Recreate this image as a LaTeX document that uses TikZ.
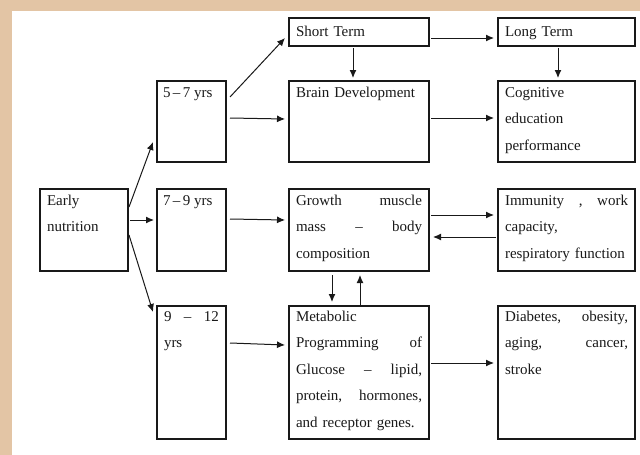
\documentclass[tikz,border=0pt]{standalone}
\usepackage{fontspec}
\setmainfont{Liberation Serif}
\usetikzlibrary{arrows.meta}
\definecolor{frame}{RGB}{227,197,165}
\definecolor{ink}{RGB}{25,25,25}
\tikzset{
  box/.style={draw=ink, line width=1.1pt, inner sep=0pt, outer sep=0pt, fill=white},
  txt/.style={anchor=north west, inner sep=0pt, outer sep=0pt, align=left, text=ink,
              font=\fontsize{15}{26.5}\selectfont},
  arr/.style={draw=ink, line width=1pt, -{Latex[length=8pt,width=7pt]}}
}
\newcommand{\fs}{\rule{0pt}{15pt}}
\begin{document}
\begin{tikzpicture}[x=1pt,y=-1pt]
\useasboundingbox (0,0) rectangle (640,455);
\fill[frame] (0,0) rectangle (640,455);
\fill[white] (12,11) rectangle (640,455);
% boxes
\node[box, minimum width=140pt, minimum height=28pt] (st) at (359,32) {};
\node[box, minimum width=137pt, minimum height=28pt] (lt) at (566.5,32) {};
\node[box, minimum width=69pt, minimum height=81pt] (a57) at (191.5,121.5) {};
\node[box, minimum width=140pt, minimum height=81pt] (bd) at (359,121.5) {};
\node[box, minimum width=137pt, minimum height=81pt] (cg) at (566.5,121.5) {};
\node[box, minimum width=88pt, minimum height=82pt] (en) at (84,230) {};
\node[box, minimum width=69pt, minimum height=82pt] (a79) at (191.5,230) {};
\node[box, minimum width=140pt, minimum height=82pt] (gr) at (359,230) {};
\node[box, minimum width=137pt, minimum height=82pt] (im) at (566.5,230) {};
\node[box, minimum width=69pt, minimum height=133pt] (a912) at (191.5,372.5) {};
\node[box, minimum width=140pt, minimum height=133pt] (mp) at (359,372.5) {};
\node[box, minimum width=137pt, minimum height=133pt] (db) at (566.5,372.5) {};
% texts
\node[txt, text width=126pt] (stT) at ([shift={(7pt,-3pt)}]st.north west) {\fs Short Term};
\node[txt, text width=123pt] (ltT) at ([shift={(7pt,-3pt)}]lt.north west) {\fs Long Term};
\node[txt] (a57T) at ([shift={(6pt,-1pt)}]a57.north west) {\fs 5\,–\,7 yrs};
\node[txt, text width=126pt] (bdT) at ([shift={(7pt,-1pt)}]bd.north west) {\fs Brain Development};
\node[txt, text width=123pt] (cgT) at ([shift={(7pt,-1pt)}]cg.north west) {\fs Cognitive\\education\\performance};
\node[txt, text width=74pt] (enT) at ([shift={(7pt,-1pt)}]en.north west) {\fs Early\\nutrition};
\node[txt] (a79T) at ([shift={(6pt,-1pt)}]a79.north west) {\fs 7\,–\,9 yrs};
\node[txt, text width=126pt] (grT) at ([shift={(7pt,-1pt)}]gr.north west) {\fs Growth\hfill muscle\\mass\hfill –\hfill body\\composition};
\node[txt, text width=123pt] (imT) at ([shift={(7pt,-1pt)}]im.north west) {\fs Immunity\hfill ,\hfill work\\capacity,\\respiratory function};
\node[txt, text width=55pt] (a912T) at ([shift={(7pt,0pt)}]a912.north west) {\fs 9\hfill –\hfill 12\\yrs};
\node[txt, text width=126pt] (mpT) at ([shift={(7pt,0pt)}]mp.north west) {\fs Metabolic\\Programming\hfill of\\Glucose\hfill –\hfill lipid,\\protein,\hfill hormones,\\and receptor genes.};
\node[txt, text width=123pt] (dbT) at ([shift={(7pt,0pt)}]db.north west) {\fs Diabetes,\hfill obesity,\\aging,\hfill cancer,\\stroke};
% arrows
\draw[arr] ([shift={(1pt,-18pt)}]en.north east) -- ([shift={(-4pt,20pt)}]a57.south west);
\draw[arr] ([shift={(2pt,10pt)}]en.east) -- ([shift={(-3pt,10pt)}]a79.west);
\draw[arr] ([shift={(1pt,-5pt)}]en.east) -- ([shift={(-4pt,-6pt)}]a912.north west);
\draw[arr] ([shift={(4pt,-16pt)}]a57.north east) -- ([shift={(-4pt,-6pt)}]st.west);
\draw[arr] ([shift={(4pt,3.5pt)}]a57.east) -- ([shift={(-4pt,2.5pt)}]bd.west);
\draw[arr] ([shift={(4pt,11pt)}]a79.east) -- ([shift={(-4pt,10pt)}]gr.west);
\draw[arr] ([shift={(4pt,29.5pt)}]a912.east) -- ([shift={(-4pt,27.5pt)}]mp.west);
\draw[arr] ([shift={(2pt,-6pt)}]st.east) -- ([shift={(-4pt,-6pt)}]lt.west);
\draw[arr] ([shift={(-6pt,-2pt)}]st.south) -- ([shift={(-6pt,3pt)}]bd.north);
\draw[arr] ([shift={(-8.5pt,-2pt)}]lt.south) -- ([shift={(-8.5pt,3pt)}]cg.north);
\draw[arr] ([shift={(2pt,3.5pt)}]bd.east) -- ([shift={(-4pt,3.5pt)}]cg.west);
\draw[arr] ([shift={(2pt,15pt)}]gr.east) -- ([shift={(-4pt,15pt)}]im.west);
\draw[arr] ([shift={(-2pt,-7pt)}]im.west) -- ([shift={(4pt,-7pt)}]gr.east);
\draw[arr] ([shift={(-27pt,-4pt)}]gr.south) -- ([shift={(-27pt,4pt)}]mp.north);
\draw[arr] ([shift={(1pt,1pt)}]mp.north) -- ([shift={(1pt,-4pt)}]gr.south);
\draw[arr] ([shift={(2pt,9.5pt)}]mp.east) -- ([shift={(-4pt,9.5pt)}]db.west);
\end{tikzpicture}
\end{document}
